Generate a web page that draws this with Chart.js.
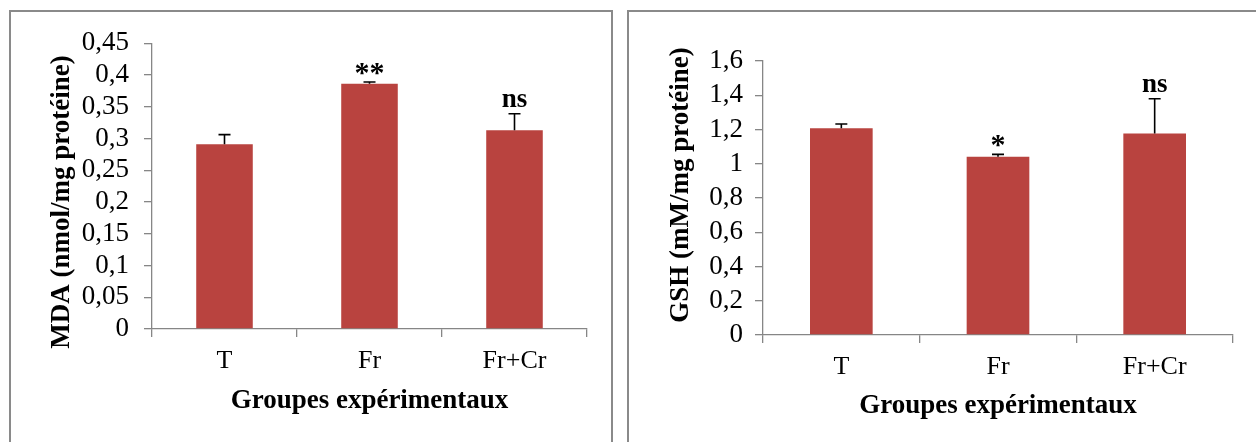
<!DOCTYPE html>
<html>
<head>
<meta charset="utf-8">
<script src="https://cdn.jsdelivr.net/npm/chart.js@4.4.1/dist/chart.umd.min.js"></script>
<style>
  html, body { margin: 0; padding: 0; background: #fff; overflow: hidden; }
  body { width: 1256px; height: 442px; position: relative; }
  .frame { position: absolute; border: 2px solid #8a8a8a; border-bottom: none; box-sizing: border-box; }
  .wrap { position: absolute; }
</style>
</head>
<body>
<div class="frame" style="left:9px; top:10px; width:604px; height:440px;"></div>
<div class="frame" style="left:627px; top:10px; width:640px; height:440px; border-right:none;"></div>
<div class="wrap" style="left:11px; top:12px; width:600px; height:430px;"><canvas id="chart-mda"></canvas></div>
<div class="wrap" style="left:629px; top:13px; width:627px; height:429px;"><canvas id="chart-gsh"></canvas></div>

<script>
// ─── Données ───
const groupes = ['T', 'Fr', 'Fr+Cr'];

const mdaValues = [0.291, 0.386, 0.313];
const mdaErrors = [0.015, 0.003, 0.026];
const mdaSignif = ['', '**', 'ns'];
const mdaTicks = [0, 0.05, 0.1, 0.15, 0.2, 0.25, 0.3, 0.35, 0.4, 0.45];

const gshValues = [1.207, 1.041, 1.177];
const gshErrors = [0.025, 0.014, 0.203];
const gshSignif = ['', '*', 'ns'];
const gshTicks = [0, 0.2, 0.4, 0.6, 0.8, 1, 1.2, 1.4, 1.6];

const BAR = '#B9433F';
const AXIS = '#868686';
const SERIF = "'Liberation Serif', 'Times New Roman', serif";

// barres d'erreur (haut seulement) + étoiles de significativité
const errorBarPlugin = {
    id: 'errorBars',
    afterDatasetsDraw(chart, args, opts) {
        const ctx = chart.ctx;
        const yScale = chart.scales.y;
        const meta = chart.getDatasetMeta(0);
        meta.data.forEach((bar, i) => {
            const top = yScale.getPixelForValue(opts.values[i] + opts.errors[i]);
            ctx.save();
            ctx.strokeStyle = '#000';
            ctx.lineWidth = 1.6;
            ctx.beginPath();
            ctx.moveTo(bar.x, bar.y);
            ctx.lineTo(bar.x, top);
            ctx.moveTo(bar.x - 6, top);
            ctx.lineTo(bar.x + 6, top);
            ctx.stroke();

            const label = opts.labels[i];
            if (label) {
                const isStar = label.indexOf('*') === 0;
                ctx.fillStyle = '#000';
                ctx.textAlign = 'center';
                ctx.textBaseline = 'alphabetic';
                ctx.font = 'bold ' + (isStar ? 30 : 27) + 'px ' + SERIF;
                ctx.fillText(label, bar.x, top - (isStar ? 0 : 7));
            }
            ctx.restore();
        });
    }
};

// titre de l'axe Y, dessiné à la main pour le décaler comme dans Excel
const yTitlePlugin = {
    id: 'yTitle',
    afterDraw(chart, args, opts) {
        const ctx = chart.ctx;
        const area = chart.chartArea;
        ctx.save();
        ctx.translate(opts.x, (area.top + area.bottom) / 2 + opts.shift);
        ctx.rotate(-Math.PI / 2);
        ctx.fillStyle = '#000';
        ctx.textAlign = 'center';
        ctx.textBaseline = 'middle';
        ctx.font = 'bold 27px ' + SERIF;
        ctx.fillText(opts.text, 0, 0);
        ctx.restore();
    }
};

function commaFmt(v) {
    return String(Math.round(v * 100) / 100).replace('.', ',');
}

function makeChart(canvasId, values, errors, signif, ticks, yTitle, geo) {
    const canvas = document.getElementById(canvasId);
    return new Chart(canvas, {
        type: 'bar',
        data: {
            labels: groupes,
            datasets: [{
                data: values,
                backgroundColor: BAR,
                borderWidth: 0,
                categoryPercentage: 1,
                barPercentage: geo.barPct,
            }]
        },
        plugins: [errorBarPlugin, yTitlePlugin],
        options: {
            responsive: true,
            maintainAspectRatio: false,
            animation: false,
            events: [],
            layout: { padding: { left: 0, top: geo.top, right: geo.right, bottom: geo.bottom } },
            plugins: {
                legend: { display: false },
                tooltip: { enabled: false },
                errorBars: { values: values, errors: errors, labels: signif },
                yTitle: { text: yTitle, x: geo.titleX, shift: geo.titleShift },
            },
            scales: {
                x: {
                    grid: { offset: true, drawOnChartArea: false, drawTicks: true, tickLength: 8, color: AXIS, lineWidth: 1.3 },
                    border: { display: true, color: AXIS, width: 1.3 },
                    ticks: { color: '#000', padding: geo.xPad, autoSkip: false, maxRotation: 0, font: { family: SERIF, size: 26 } },
                    title: {
                        display: true,
                        text: 'Groupes expérimentaux',
                        color: '#000',
                        font: { family: SERIF, size: 27, weight: 'bold', lineHeight: 1 },
                        padding: { top: 0, bottom: geo.xTitlePad },
                    },
                    afterFit(scale) { scale.height = geo.xHeight; },
                },
                y: {
                    min: 0,
                    max: ticks[ticks.length - 1],
                    afterBuildTicks(scale) { scale.ticks = ticks.map(v => ({ value: v })); },
                    grid: { drawOnChartArea: false, drawTicks: true, tickLength: 8, color: AXIS, lineWidth: 1.3 },
                    border: { display: true, color: AXIS, width: 1.3 },
                    ticks: {
                        color: '#000',
                        padding: geo.yPad,
                        autoSkip: false,
                        font: { family: SERIF, size: 27 },
                        callback: v => commaFmt(v),
                    },
                    afterFit(scale) { scale.width = geo.yWidth; },
                }
            }
        }
    });
}

makeChart('chart-mda', mdaValues, mdaErrors, mdaSignif, mdaTicks, 'MDA (nmol/mg protéine)', {
    top: 29, right: 24, bottom: 3, yWidth: 141, xHeight: 110,
    yPad: 15, xPad: 9, xTitlePad: 24, barPct: 0.39,
    titleX: 51, titleShift: 16,
});

makeChart('chart-gsh', gshValues, gshErrors, gshSignif, gshTicks, 'GSH (mM/mg protéine)', {
    top: 48, right: 23, bottom: 3, yWidth: 134, xHeight: 104,
    yPad: 12, xPad: 9, xTitlePad: 19, barPct: 0.40,
    titleX: 52, titleShift: -13,
});
</script>
</body>
</html>
